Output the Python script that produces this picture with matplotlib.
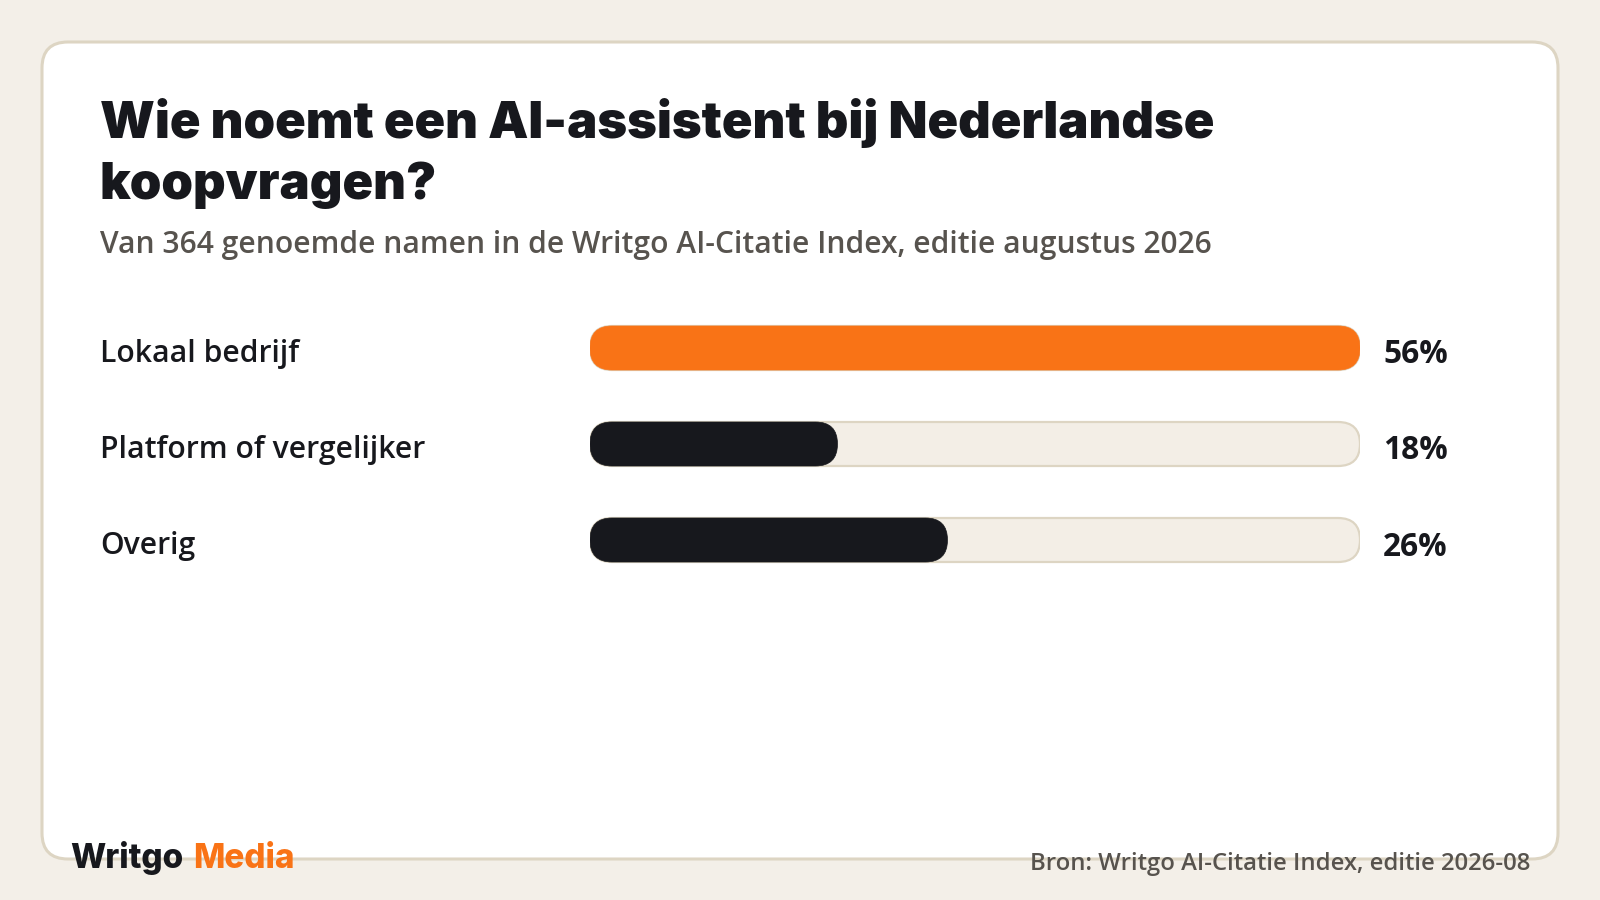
import matplotlib
matplotlib.use("Agg")
import matplotlib.pyplot as plt
from matplotlib.patches import FancyBboxPatch

# data
categories = ["Lokaal bedrijf", "Platform of vergelijker", "Overig"]
shares = [56, 18, 26]
value_labels = ["56%", "18%", "26%"]
title = "Wie noemt een AI-assistent bij Nederlandse\nkoopvragen?"
subtitle = "Van 364 genoemde namen in de Writgo AI-Citatie Index, editie augustus 2026"
source = "Bron: Writgo AI-Citatie Index, editie 2026-08"

ORANGE = "#F97316"
DARK = "#17181D"
TRACK = "#F3EEE6"
TRACK_EDGE = "#DDD5C3"
BG = "#F3EFE8"
GREY = "#57534E"

W, H = 1600, 900
fig = plt.figure(figsize=(16, 9), dpi=100, facecolor=BG)

# background / card layer in pixel units
bg = fig.add_axes([0, 0, 1, 1])
bg.set_xlim(0, W)
bg.set_ylim(H, 0)
bg.axis("off")
card = FancyBboxPatch((42, 42), 1516, 817, boxstyle="round,pad=0,rounding_size=26",
                      facecolor="white", edgecolor="#DDD5C3", linewidth=2.2)
bg.add_patch(card)

t1, t2 = title.split("\n")
bg.text(100, 138, t1, fontsize=36.5, fontweight=900,
        family="Inter", color=DARK, va="baseline")
bg.text(100, 199, t2, fontsize=36.5, fontweight=900,
        family="Inter", color=DARK, va="baseline")
bg.text(100, 253, subtitle, fontsize=21.6, family="Open Sans",
        fontweight="semibold", color=GREY, va="baseline")

# bars
bx0, bx1 = 590, 1360
row_px = 96
top = 348 - row_px / 2
ax = fig.add_axes([bx0 / W, 1 - (top + 3 * row_px) / H, (bx1 - bx0) / W, 3 * row_px / H])
ax.set_xlim(0, max(shares))
ax.set_ylim(len(categories) - 0.5, -0.5)
ax.axis("off")

px_x = (bx1 - bx0) / max(shares)   # pixels per x unit
px_y = row_px                      # pixels per y unit
bar_h = 44 / px_y
r = 22 / px_x
asp = px_x / px_y

for i, (cat, v, lab) in enumerate(zip(categories, shares, value_labels)):
    y = i
    track = FancyBboxPatch((0, y - bar_h / 2), max(shares), bar_h,
                           boxstyle=f"round,pad=0,rounding_size={r}",
                           mutation_aspect=asp, facecolor=TRACK,
                           edgecolor=TRACK_EDGE, linewidth=1.6)
    ax.add_patch(track)
    col = ORANGE if i == 0 else DARK
    bar = FancyBboxPatch((0, y - bar_h / 2), v, bar_h,
                         boxstyle=f"round,pad=0,rounding_size={r}",
                         mutation_aspect=asp, facecolor=col,
                         edgecolor=col, linewidth=0.5)
    ax.add_patch(bar)
    ax.text(max(shares) + 23 / px_x, y + 7 / px_y, lab, fontsize=22.8, fontweight="bold",
            family="Open Sans", color=DARK, va="center", ha="left")
    bg.text(100, 354 + i * row_px, cat, fontsize=21.7, family="Open Sans",
            fontweight="semibold", color=DARK, va="center", ha="left")

# footer
bg.text(70, 868, "Writgo", fontsize=24, fontweight=800, family="Inter",
        color=DARK, va="baseline")
bg.text(193, 868, "Media", fontsize=24, fontweight=800, family="Inter",
        color=ORANGE, va="baseline")
bg.text(1530, 870, source, fontsize=17.2, family="Open Sans", fontweight="semibold",
        color=GREY, va="baseline", ha="right")

fig.savefig("out.png", dpi=100, facecolor=BG)
